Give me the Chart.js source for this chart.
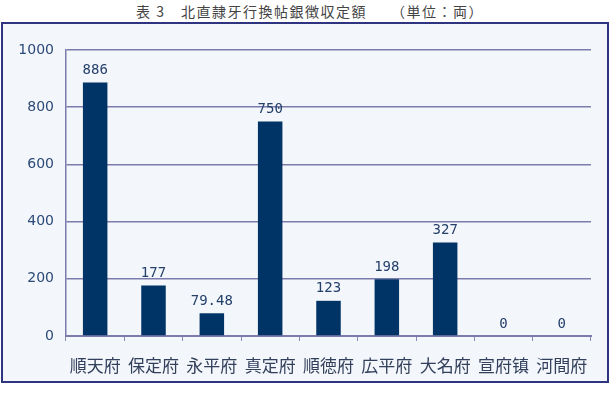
<!DOCTYPE html>
<html lang="ja">
<head>
<meta charset="UTF-8" />
<title>北直隷牙行換帖銀徴収定額</title>
<script src="https://cdn.jsdelivr.net/npm/chart.js"></script>
<style>
  html, body { margin: 0; padding: 0; background: #ffffff; }
  #title {
    position: absolute; left: 0; top: 1px; width: 620px; text-align: center;
    font: 14px "Noto Sans CJK JP", sans-serif; color: #444; letter-spacing: 1.5px;
  }
  #box {
    position: absolute; left: 1px; top: 22px; width: 604px; height: 357px;
    border: 2px solid #2e3480; background: #f3f6fb;
  }
  canvas { display: block; }
</style>
</head>
<body>
  <div id="title">表 3　北直隷牙行換帖銀徴収定額　　（単位：両）</div>
  <div id="box"><canvas id="chart" width="604" height="357"></canvas></div>

  <script>
    // 各府の定額（両）
    const categories = ['順天府', '保定府', '永平府', '真定府', '順徳府', '広平府', '大名府', '宣府镇', '河間府'];
    const values = [886, 177, 79.48, 750, 123, 198, 327, 0, 0];
    const yTicks = [0, 200, 400, 600, 800, 1000];

    const gridColor = '#7c7cac';

    // 棒の上に数値を描く
    const valueLabels = {
      id: 'valueLabels',
      afterDatasetsDraw(chart) {
        const ctx = chart.ctx;
        const meta = chart.getDatasetMeta(0);
        ctx.save();
        ctx.font = '14px "DejaVu Sans Mono", monospace';
        ctx.fillStyle = '#24406a';
        ctx.textAlign = 'center';
        ctx.textBaseline = 'bottom';
        meta.data.forEach((bar, i) => {
          ctx.fillText(String(values[i]), bar.x, bar.y - 5);
        });
        ctx.restore();
      }
    };

    new Chart(document.getElementById('chart'), {
      type: 'bar',
      data: {
        labels: categories,
        datasets: [{
          data: values,
          backgroundColor: '#003366',
          borderWidth: 0,
          categoryPercentage: 1,
          barPercentage: 0.42
        }]
      },
      options: {
        responsive: false,
        animation: false,
        layout: { padding: { left: 0, right: 16, top: 26, bottom: 0 } },
        plugins: { legend: { display: false }, tooltip: { enabled: false } },
        scales: {
          x: {
            grid: {
              offset: true,
              drawOnChartArea: false,
              tickLength: 5,
              color: '#8a8ab4'
            },
            border: { color: gridColor, width: 2 },
            ticks: {
              padding: 14,
              color: '#33405c',
              font: { family: '"Noto Sans CJK JP", sans-serif', size: 17 },
              maxRotation: 0,
              autoSkip: false
            },
            afterFit(s) { s.height = 45; }
          },
          y: {
            min: 0,
            max: 1000,
            afterBuildTicks(s) { s.ticks = yTicks.map(v => ({ value: v })); },
            grid: { color: gridColor, lineWidth: 1.5, drawTicks: false },
            border: { color: gridColor, width: 1.5 },
            ticks: {
              padding: 12,
              color: '#2c4a78',
              font: { family: '"DejaVu Sans", sans-serif', size: 14 },
              callback: v => String(v)
            },
            afterFit(s) { s.width = 63; }
          }
        }
      },
      plugins: [valueLabels]
    });
  </script>
</body>
</html>
